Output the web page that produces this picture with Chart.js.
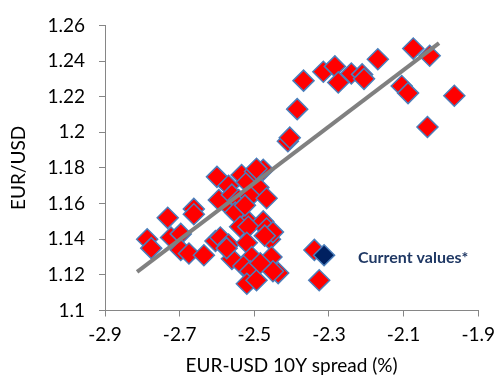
<!DOCTYPE html>
<html>
<head>
<meta charset="utf-8">
<script src="https://cdn.jsdelivr.net/npm/chart.js@4"></script>
<style>
  html, body { margin: 0; padding: 0; background: #fff; }
  #wrap { width: 502px; height: 377px; }
</style>
</head>
<body>
<div id="wrap"><canvas id="spreadChart"></canvas></div>
<script>
// spread (x) and EUR/USD (y)
var spreadX = [-2.787, -2.776, -2.732, -2.723, -2.697, -2.697, -2.675, -2.662, -2.662, -2.635,
    -2.600, -2.595, -2.569, -2.560, -2.560, -2.542, -2.534, -2.520, -2.498, -2.476,
    -2.489, -2.511, -2.467, -2.551, -2.516, -2.476, -2.525, -2.604, -2.591, -2.569,
    -2.538, -2.516, -2.520, -2.467, -2.458, -2.450, -2.560, -2.574, -2.507, -2.454,
    -2.529, -2.511, -2.436, -2.520, -2.494, -2.472, -2.450, -2.484, -2.339, -2.326,
    -2.410, -2.405, -2.385, -2.368, -2.315, -2.284, -2.275, -2.240, -2.211, -2.206,
    -2.169, -2.074, -2.030, -2.105, -2.088, -1.964, -2.036, -2.494];
var eurusdY = [1.140, 1.135, 1.152, 1.141, 1.143, 1.134, 1.132, 1.157, 1.154, 1.131,
    1.175, 1.162, 1.170, 1.157, 1.165, 1.162, 1.176, 1.172, 1.178, 1.179,
    1.169, 1.164, 1.163, 1.155, 1.150, 1.150, 1.159, 1.139, 1.141, 1.137,
    1.147, 1.147, 1.138, 1.146, 1.140, 1.144, 1.129, 1.135, 1.130, 1.130,
    1.125, 1.122, 1.121, 1.115, 1.117, 1.142, 1.122, 1.1265, 1.134, 1.117,
    1.195, 1.197, 1.213, 1.229, 1.234, 1.237, 1.228, 1.233, 1.2325, 1.230,
    1.241, 1.247, 1.243, 1.226, 1.222, 1.2205, 1.203, 1.1795];

var currentX = [-2.313];
var currentY = [1.131];
var currentLabel = 'Current values*';

// regression line end points
var trendX = [-2.814, -2.005];
var trendY = [1.1217, 1.250];

var xTicks = [-2.9, -2.7, -2.5, -2.3, -2.1, -1.9];
var yTicks = [1.1, 1.12, 1.14, 1.16, 1.18, 1.2, 1.22, 1.24, 1.26];
var xTitle = 'EUR-USD 10Y spread (%)';
var yTitle = 'EUR/USD';

function toPoints(xs, ys) {
    var pts = [];
    for (var i = 0; i < xs.length; i++) {
        pts.push({ x: xs[i], y: ys[i] });
    }
    return pts;
}

// excel style: 1.2 not 1.20
function shortNum(v) {
    return String(Number(v.toFixed(2)));
}

var axisGray = '#868686';
var fontName = 'Lato';

// text next to the current point
var labelPlugin = {
    id: 'currentLabel',
    afterDatasetsDraw: function (chart) {
        var ctx = chart.ctx;
        var px = chart.scales.x.getPixelForValue(currentX[0]);
        var py = chart.scales.y.getPixelForValue(currentY[0]);
        ctx.save();
        ctx.font = 'bold 16px ' + fontName;
        ctx.fillStyle = '#1f3864';
        ctx.textAlign = 'left';
        ctx.textBaseline = 'middle';
        ctx.fillText(currentLabel, px + 34, py + 3);
        ctx.restore();
    }
};

var ctx = document.getElementById('spreadChart');
new Chart(ctx, {
    type: 'scatter',
    data: {
        datasets: [{
            type: 'line',
            data: toPoints(trendX, trendY),
            borderColor: '#808080',
            borderWidth: 4,
            pointRadius: 0,
            fill: false,
            order: 0
        }, {
            data: toPoints(currentX, currentY),
            backgroundColor: '#002060',
            borderColor: '#4a7ebb',
            borderWidth: 1.5,
            pointStyle: 'rectRot',
            pointRadius: 10.5,
            order: 1
        }, {
            data: toPoints(spreadX, eurusdY),
            backgroundColor: '#ff0000',
            borderColor: '#4a7ebb',
            borderWidth: 1.5,
            pointStyle: 'rectRot',
            pointRadius: 10.5,
            order: 2
        }]
    },
    options: {
        responsive: true,
        maintainAspectRatio: false,
        animation: false,
        layout: { padding: { top: 18, right: 20, left: 0, bottom: 0 } },
        plugins: { legend: { display: false }, tooltip: { enabled: false } },
        scales: {
            x: {
                type: 'linear',
                min: -2.9,
                max: -1.9,
                afterBuildTicks: function (s) { s.ticks = xTicks.map(function (v) { return { value: v }; }); },
                afterFit: function (s) { s.height = 66.5; },
                grid: { drawOnChartArea: false, drawTicks: true, tickLength: 6, color: axisGray },
                border: { color: axisGray, width: 1 },
                ticks: { color: '#000', font: { family: fontName, size: 19 }, padding: 7, callback: shortNum },
                title: { display: true, text: xTitle, color: '#000', font: { family: fontName, size: 19 }, padding: { top: 0, bottom: 0 } }
            },
            y: {
                type: 'linear',
                min: 1.1,
                max: 1.26,
                afterBuildTicks: function (s) { s.ticks = yTicks.map(function (v) { return { value: v }; }); },
                afterFit: function (s) { s.width = 105; },
                grid: { drawOnChartArea: false, drawTicks: true, tickLength: 6, color: axisGray },
                border: { color: axisGray, width: 1 },
                ticks: { color: '#000', font: { family: fontName, size: 19 }, padding: 14, callback: shortNum },
                title: { display: true, text: yTitle, color: '#000', font: { family: fontName, size: 19 }, padding: { top: 7, bottom: 0 } }
            }
        }
    },
    plugins: [labelPlugin]
});
</script>
</body>
</html>
